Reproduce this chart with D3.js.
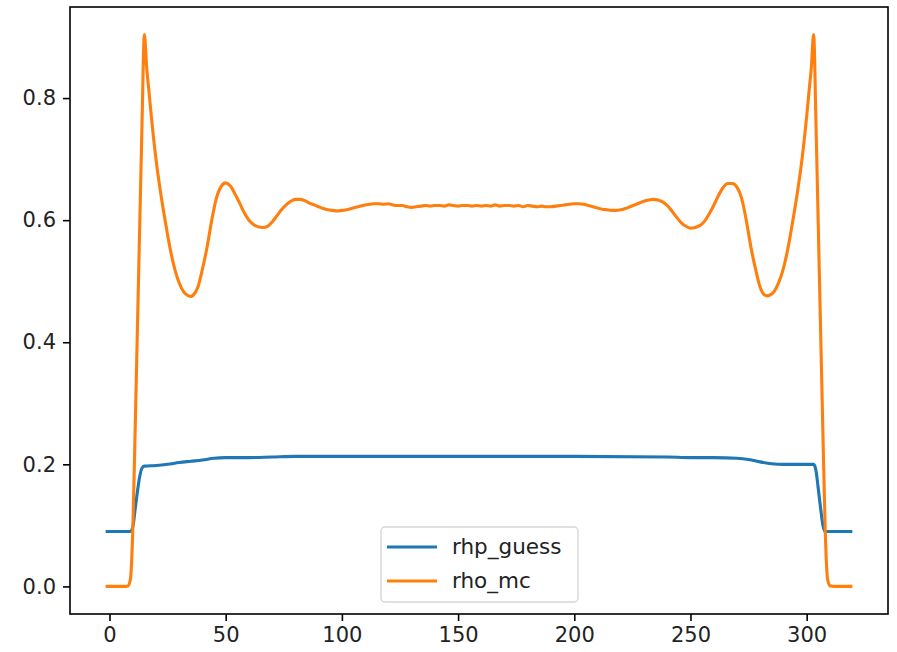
<!DOCTYPE html>
<html>
<head>
<meta charset="utf-8">
<script src="https://cdn.jsdelivr.net/npm/d3@7"></script>
<style>
  body { margin: 0; background: #fff; }
  svg { display: block; font-family: "DejaVu Sans", sans-serif; }
</style>
</head>
<body>
<div id="chart"></div>
<script>
// x positions and values
const guessX = [-1, 9, 10, 11, 12, 13, 14, 15, 20, 25, 30, 35, 40, 45, 50, 60, 70, 80, 120, 160, 200, 240, 250, 260, 270, 275, 280, 285, 290, 300, 303, 304, 305, 306, 307, 308, 319]
const guessY = [0.09, 0.09, 0.097, 0.125, 0.155, 0.18, 0.194, 0.197, 0.198, 0.2, 0.203, 0.205, 0.207, 0.21, 0.211, 0.211, 0.212, 0.213, 0.213, 0.213, 0.213, 0.212, 0.211, 0.211, 0.21, 0.208, 0.204, 0.201, 0.2, 0.2, 0.2, 0.19, 0.16, 0.128, 0.1, 0.09, 0.09]

const mcX = [-1, 0, 2, 4, 6, 7, 8, 9, 10, 11, 12, 13, 14, 15, 16, 17, 18, 20, 22, 24, 26, 28, 30, 32, 34, 35, 36, 38, 40, 42, 44, 46, 48, 50, 52, 54, 56, 58, 60, 62, 64, 66, 68, 70, 72, 74, 76, 78, 80, 82, 84, 86, 88, 90, 92, 94, 96, 98, 100, 102, 104, 106, 108, 110, 112, 114, 116, 118, 120, 122, 124, 126, 128, 130, 132, 134, 136, 138, 140, 142, 144, 146, 148, 150, 152, 154, 156, 158, 160, 162, 164, 166, 168, 170, 172, 174, 176, 178, 180, 182, 184, 186, 188, 190, 192, 194, 196, 198, 200, 202, 204, 206, 208, 210, 212, 214, 216, 218, 220, 222, 224, 226, 228, 230, 232, 234, 236, 238, 240, 242, 244, 246, 248, 250, 252, 254, 256, 258, 260, 262, 264, 266, 268, 270, 272, 274, 276, 278, 280, 282, 283, 284, 286, 288, 290, 292, 294, 296, 298, 300, 301, 302, 303, 304, 305, 306, 307, 308, 309, 310, 312, 314, 316, 318, 319]
const mcY = [0, 0, 0, 0, 0, 0, 0.001, 0.012, 0.09, 0.25, 0.42, 0.59, 0.76, 0.904, 0.85, 0.81, 0.77, 0.7, 0.645, 0.598, 0.555, 0.521, 0.497, 0.482, 0.476, 0.475, 0.477, 0.49, 0.52, 0.556, 0.6, 0.636, 0.655, 0.661, 0.656, 0.643, 0.628, 0.612, 0.6, 0.593, 0.589, 0.588, 0.59, 0.597, 0.607, 0.617, 0.625, 0.631, 0.634, 0.634, 0.632, 0.628, 0.625, 0.622, 0.619, 0.617, 0.616, 0.615, 0.616, 0.617, 0.619, 0.621, 0.623, 0.625, 0.626, 0.627, 0.627, 0.626, 0.627, 0.625, 0.624, 0.624, 0.622, 0.621, 0.622, 0.623, 0.624, 0.623, 0.624, 0.624, 0.623, 0.625, 0.624, 0.623, 0.624, 0.624, 0.623, 0.624, 0.623, 0.624, 0.623, 0.625, 0.623, 0.624, 0.624, 0.623, 0.624, 0.622, 0.624, 0.623, 0.622, 0.623, 0.622, 0.622, 0.623, 0.624, 0.625, 0.626, 0.627, 0.627, 0.626, 0.624, 0.622, 0.62, 0.618, 0.617, 0.616, 0.616, 0.617, 0.619, 0.622, 0.625, 0.628, 0.631, 0.633, 0.634, 0.633, 0.63, 0.624, 0.615, 0.605, 0.596, 0.59, 0.587, 0.588, 0.591, 0.598, 0.61, 0.624, 0.64, 0.653, 0.66, 0.66, 0.654, 0.636, 0.6, 0.556, 0.52, 0.49, 0.477, 0.476, 0.477, 0.483, 0.498, 0.521, 0.555, 0.598, 0.645, 0.7, 0.77, 0.81, 0.85, 0.904, 0.76, 0.59, 0.42, 0.25, 0.09, 0.012, 0.001, 0, 0, 0, 0, 0]

const xTicks = [0, 50, 100, 150, 200, 250, 300]
const yTicks = [0.0, 0.2, 0.4, 0.6, 0.8]
const seriesNames = ['rhp_guess', 'rho_mc']
const seriesColors = ['#1f77b4', '#ff7f0e']

const width = 897
const height = 652
const margin = { top: 7, right: 9, bottom: 38, left: 70 }
const fontSize = 21

const svg = d3.select('#chart').append('svg').attr('width', width).attr('height', height)

// matplotlib style 5% margins around the data
const xMin = -1, xMax = 319
const xPad = (xMax - xMin) * 0.05
const yMax = d3.max(mcY)
const yPad = yMax * 0.05

const x = d3.scaleLinear().domain([xMin - xPad, xMax + xPad]).range([margin.left, width - margin.right])
const y = d3.scaleLinear().domain([0 - yPad, yMax + yPad]).range([height - margin.bottom, margin.top])

const series = [
  guessX.map((d, i) => ({ x: d, y: guessY[i] })),
  mcX.map((d, i) => ({ x: d, y: mcY[i] }))
]

const line = d3.line().x(d => x(d.x)).y(d => y(d.y)).curve(d3.curveMonotoneX)

// Draw the two lines
series.forEach((s, i) => {
  svg.append('path')
    .datum(s)
    .attr('d', line)
    .attr('fill', 'none')
    .attr('stroke', seriesColors[i])
    .attr('stroke-width', 3.1)
    .attr('stroke-linejoin', 'round')
    .attr('stroke-linecap', 'square')
})

// Axes
const xAxis = svg.append('g')
  .attr('transform', `translate(0,${height - margin.bottom})`)
  .call(d3.axisBottom(x).tickValues(xTicks).tickFormat(d3.format('d')).tickSize(7).tickPadding(6))
const yAxis = svg.append('g')
  .attr('transform', `translate(${margin.left},0)`)
  .call(d3.axisLeft(y).tickValues(yTicks).tickFormat(d3.format('.1f')).tickSize(7).tickPadding(7))

;[xAxis, yAxis].forEach(g => {
  g.select('.domain').remove()
  g.selectAll('.tick line').attr('stroke', '#000').attr('stroke-width', 1.6)
  g.selectAll('.tick text').attr('fill', '#222').attr('font-size', fontSize + 'px').attr('font-family', '"DejaVu Sans", sans-serif')
})

// Frame around the plot area
svg.append('rect')
  .attr('x', margin.left)
  .attr('y', margin.top)
  .attr('width', width - margin.left - margin.right)
  .attr('height', height - margin.top - margin.bottom)
  .attr('fill', 'none')
  .attr('stroke', '#000')
  .attr('stroke-width', 1.6)

// Legend
const legend = svg.append('g').attr('transform', 'translate(381,527)')
legend.append('rect')
  .attr('width', 197)
  .attr('height', 75)
  .attr('rx', 4)
  .attr('fill', '#fff')
  .attr('fill-opacity', 0.8)
  .attr('stroke', '#d6d6d6')
  .attr('stroke-width', 1.4)

seriesNames.forEach((name, i) => {
  const cy = 20 + i * 34
  legend.append('line')
    .attr('x1', 6).attr('x2', 56)
    .attr('y1', cy).attr('y2', cy)
    .attr('stroke', seriesColors[i])
    .attr('stroke-width', 3.1)
  legend.append('text')
    .attr('x', 71)
    .attr('y', cy)
    .attr('dy', '0.32em')
    .attr('font-size', '21.5px')
    .attr('fill', '#222')
    .text(name)
})
</script>
</body>
</html>
